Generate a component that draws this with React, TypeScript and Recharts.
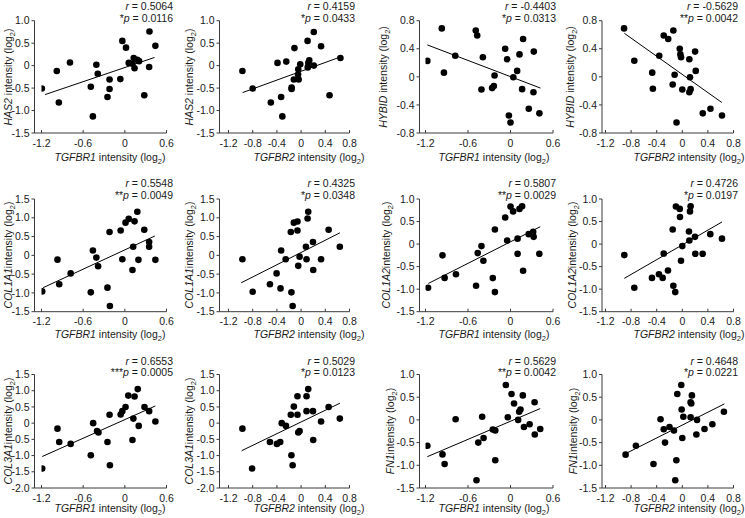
import React from 'react';
import { ScatterChart, Scatter, XAxis, YAxis, ReferenceLine } from 'recharts';

const FONT = '"Liberation Sans", Arial, sans-serif';
const INK = '#1a1a1a';
const AXIS = '#3a3a3a';
const FS = 10.5;

// ---- tick labels ----
const tgfbr1Ticks = [-1.2, -0.6, 0, 0.6];
const tgfbr2Ticks = [-1.2, -0.8, -0.4, 0, 0.4, 0.8];
const has2Ticks = [-1.5, -1, -0.5, 0, 0.5, 1];
const hybidTicks = [-0.8, -0.4, 0, 0.4, 0.8];
const col1a1Ticks = [-1.5, -1, -0.5, 0, 0.5, 1, 1.5];
const col1a2Ticks = [-1.5, -1, -0.5, 0, 0.5, 1];
const col3a1Ticks = [-2, -1.5, -1, -0.5, 0, 0.5, 1, 1.5];
const fn1Ticks = [-1.5, -1, -0.5, 0, 0.5, 1];

// ---- data: [x, y] ----
const has2VsTgfbr1 = [[-1.195,-0.51],[-0.98,-0.12],[-0.95,-0.82],[-0.79,0.07],[-0.49,-0.47],[-0.46,-1.13],[-0.41,0.02],[-0.39,-0.18],[-0.25,-0.70],[-0.22,-0.31],[-0.22,-0.52],[-0.065,-0.30],[-0.036,0.55],[0.017,0.40],[0.056,0.06],[0.11,0.04],[0.128,0.17],[0.14,-0.06],[0.18,0.13],[0.205,0.10],[0.28,-0.66],[0.35,-0.03],[0.355,0.76],[0.44,0.44]];
const has2VsTgfbr2 = [[-0.97,-0.12],[-0.80,-0.51],[-0.50,-0.82],[-0.39,0.06],[-0.33,-0.70],[-0.31,-1.13],[-0.245,0.09],[-0.157,-0.49],[-0.157,-0.52],[-0.12,-0.31],[-0.11,0.39],[-0.05,-0.20],[-0.047,-0.08],[-0.04,-0.31],[-0.014,0.03],[0.107,0.55],[0.11,-0.04],[0.12,0.06],[0.135,0.12],[0.21,0.75],[0.21,0.0],[0.33,0.43],[0.47,-0.66],[0.65,0.17]];
const hybidVsTgfbr1 = [[-1.174,0.227],[-0.97,0.69],[-0.94,0.06],[-0.78,0.30],[-0.49,0.66],[-0.47,0.59],[-0.41,-0.18],[-0.39,0.28],[-0.26,-0.16],[-0.235,-0.13],[-0.225,0.02],[-0.075,0.40],[-0.047,0.25],[0.094,0.085],[-0.023,-0.55],[0,-0.65],[0.04,-0.005],[0.127,0.32],[0.164,-0.175],[0.178,0.54],[0.258,-0.455],[0.324,-0.22],[0.329,0.36],[0.408,-0.52]];
const hybidVsTgfbr2 = [[-0.91,0.69],[-0.75,0.23],[-0.47,0.06],[-0.46,-0.17],[-0.36,0.30],[-0.29,0.59],[-0.22,0.54],[-0.15,-0.11],[-0.14,0.66],[-0.12,0.03],[-0.09,-0.65],[-0.04,0.40],[-0.03,0.32],[-0.02,0.28],[0,-0.18],[0.11,-0.22],[0.11,0.25],[0.12,-0.005],[0.13,-0.175],[0.20,0.36],[0.21,0.085],[0.32,-0.52],[0.44,-0.455],[0.62,-0.55]];
const col1a1VsTgfbr1 = [[-1.19,-0.96],[-0.97,-0.115],[-0.945,-0.77],[-0.78,-0.48],[-0.49,-0.985],[-0.46,0.13],[-0.41,-0.06],[-0.385,-0.29],[-0.25,-0.86],[-0.22,0.62],[-0.215,-1.35],[-0.06,0.66],[-0.036,-0.105],[0.01,0.87],[0.056,0.97],[0.11,-0.39],[0.12,0.23],[0.14,0.905],[0.18,1.16],[0.196,-0.12],[0.28,0.68],[0.35,0.355],[0.35,0.23],[0.44,-0.12]];
const col1a1VsTgfbr2 = [[-0.97,-0.105],[-0.80,-0.97],[-0.515,-0.77],[-0.405,-0.48],[-0.34,-0.88],[-0.33,0.13],[-0.255,-0.105],[-0.17,0.62],[-0.16,-0.985],[-0.14,-1.35],[-0.12,0.87],[-0.06,0.9],[-0.06,0.66],[-0.047,-0.28],[-0.025,-0.035],[0.09,-0.105],[0.08,0.23],[0.107,0.98],[0.118,1.16],[0.196,0.355],[0.2,-0.39],[0.33,-0.105],[0.455,0.68],[0.64,0.23]];
const col1a2VsTgfbr1 = [[-1.164,-0.97],[-0.96,-0.25],[-0.93,-0.75],[-0.77,-0.67],[-0.486,-0.925],[-0.463,-0.2],[-0.41,-0.045],[-0.383,-0.37],[-0.25,-0.755],[-0.22,0.325],[-0.22,-1.065],[-0.075,0.59],[-0.047,0.08],[0,0.835],[0.037,0.725],[0.1,-0.215],[0.1,0.12],[0.127,0.78],[0.164,0.84],[0.178,-0.59],[0.257,0.22],[0.32,0.27],[0.327,0.16],[0.407,-0.215]];
const col1a2VsTgfbr2 = [[-0.906,-0.245],[-0.75,-0.97],[-0.474,-0.75],[-0.365,-0.67],[-0.307,-0.75],[-0.29,-0.21],[-0.224,-0.585],[-0.15,0.325],[-0.14,-0.925],[-0.11,-1.065],[-0.1,0.835],[-0.04,0.78],[-0.036,0.6],[-0.02,-0.37],[0,-0.045],[0.104,0.28],[0.11,0.08],[0.12,0.725],[0.13,0.84],[0.198,0.16],[0.203,-0.215],[0.318,-0.215],[0.4375,0.22],[0.62,0.12]];
const col3a1VsTgfbr1 = [[-1.19,-1.40],[-0.97,-0.17],[-0.945,-0.58],[-0.78,-0.64],[-0.49,-0.99],[-0.456,0],[-0.40,-0.24],[-0.38,-0.29],[-0.25,-0.58],[-0.22,0.26],[-0.215,-1.30],[-0.06,0.265],[-0.036,0.37],[0.01,0.50],[0.05,0.85],[0.11,-0.52],[0.123,0.14],[0.14,0.82],[0.186,1.05],[0.2,-0.085],[0.283,0.50],[0.35,0.37],[0.44,0.05]];
const col3a1VsTgfbr2 = [[-0.97,-0.17],[-0.81,-1.40],[-0.515,-0.58],[-0.40,-0.64],[-0.345,-0.58],[-0.32,0],[-0.25,-0.085],[-0.17,0.26],[-0.16,-0.99],[-0.14,-1.30],[-0.12,0.51],[-0.06,0.83],[-0.06,0.26],[-0.047,-0.29],[-0.025,-0.24],[0.09,0.83],[0.09,0.37],[0.118,1.05],[0.196,0.37],[0.2,-0.52],[0.33,0.05],[0.455,0.50],[0.64,0.14]];
const fn1VsTgfbr1 = [[-1.174,-0.57],[-0.96,-0.76],[-0.93,-0.97],[-0.775,0.015],[-0.48,-1.33],[-0.455,-0.5],[-0.40,0.07],[-0.38,-0.4],[-0.25,-0.21],[-0.215,-0.235],[-0.215,-0.89],[-0.066,0.77],[-0.038,0.06],[0.014,0.57],[0.05,0.36],[0.108,0],[0.122,0.18],[0.141,0.23],[0.174,0.54],[0.19,-0.155],[0.27,-0.095],[0.34,0.39],[0.343,-0.32],[0.42,-0.2]];
const fn1VsTgfbr2 = [[-0.886,-0.765],[-0.725,-0.57],[-0.45,-0.97],[-0.34,0.015],[-0.29,-0.205],[-0.27,-0.5],[-0.2,-0.155],[-0.13,-0.235],[-0.11,-1.33],[-0.093,-0.89],[-0.078,0.57],[-0.016,0.77],[-0.01,0.23],[0,-0.4],[0.016,0.07],[0.13,0.39],[0.14,0.36],[0.13,0.06],[0.15,0.54],[0.23,0],[0.22,-0.32],[0.347,-0.2],[0.47,-0.095],[0.65,0.18]];

// ---- regression line endpoints [x1, y1, x2, y2] ----
const trendHas2R1 = [-1.147, -0.644, 0.428, 0.182];
const trendHas2R2 = [-0.967, -0.60, 0.658, 0.197];
const trendHybidR1 = [-1.174, 0.455, 0.423, -0.16];
const trendHybidR2 = [-0.905, 0.62, 0.617, -0.365];
const trendCol1a1R1 = [-1.176, -0.86, 0.432, 0.515];
const trendCol1a1R2 = [-0.989, -0.73, 0.642, 0.60];
const trendCol1a2R1 = [-1.159, -0.873, 0.42, 0.385];
const trendCol1a2R2 = [-0.906, -0.76, 0.62, 0.49];
const trendCol3a1R1 = [-1.19, -1.03, 0.44, 0.53];
const trendCol3a1R2 = [-0.983, -0.85, 0.642, 0.615];
const trendFn1R1 = [-1.174, -0.81, 0.42, 0.25];
const trendFn1R2 = [-0.896, -0.75, 0.658, 0.353];

// ---- statistics ----
const rValues = ['0.5064', '0.4159', '-0.4403', '-0.5629', '0.5548', '0.4325', '0.5807', '0.4726', '0.6553', '0.5029', '0.5629', '0.4648'];
const pStars = ['*', '*', '*', '**', '**', '*', '**', '*', '***', '*', '**', '*'];
const pValues = ['0.0116', '0.0433', '0.0313', '0.0042', '0.0049', '0.0348', '0.0029', '0.0197', '0.0005', '0.0123', '0.0042', '0.0221'];

const fmt = (v: number) => (v === 0 ? '0' : v.toFixed(1));

const XTick = (props: any) => {
  const { x, y, payload } = props;
  return (
    <g>
      <line x1={x} x2={x} y1={y} y2={y - 3} stroke={AXIS} strokeWidth={1} />
      <text x={x} y={y + 13.5} textAnchor="middle" fontSize={FS} fontFamily={FONT} fill={INK}>
        {fmt(payload.value)}
      </text>
    </g>
  );
};

const YTick = (props: any) => {
  const { x, y, payload } = props;
  return (
    <g>
      <line x1={x} x2={x - 3} y1={y} y2={y} stroke={AXIS} strokeWidth={1} />
      <text x={x - 5} y={y + 3.7} textAnchor="end" fontSize={FS} fontFamily={FONT} fill={INK}>
        {fmt(payload.value)}
      </text>
    </g>
  );
};

const PanelText = (props: any) => {
  const { gene, sep, receptor, yt, xt, st, idx } = props;
  return (
    <g fontFamily={FONT} fontSize={FS} fill={INK}>
      <text x={xt[0]} y={xt[1]} textAnchor="middle">
        <tspan fontStyle="italic">{receptor}</tspan>
        <tspan> intensity (log</tspan>
        <tspan fontSize={7.5} dy={3}>2</tspan>
        <tspan dy={-3}>)</tspan>
      </text>
      <text x={yt[0]} y={yt[1] + 4} textAnchor="middle" transform={`rotate(-90 ${yt[0]} ${yt[1]})`}>
        <tspan fontStyle="italic">{gene}</tspan>
        <tspan>{sep}intensity (log</tspan>
        <tspan fontSize={7.5} dy={3}>2</tspan>
        <tspan dy={-3}>)</tspan>
      </text>
      <text x={st[0]} y={st[1]} textAnchor="end">
        <tspan fontStyle="italic">r</tspan>
        <tspan>{` = ${rValues[idx]}`}</tspan>
      </text>
      <text x={st[0]} y={st[2]} textAnchor="end">
        <tspan>{pStars[idx]}</tspan>
        <tspan fontStyle="italic">p</tspan>
        <tspan>{` = ${pValues[idx]}`}</tspan>
      </text>
    </g>
  );
};

const Dot = (props: any) => <circle cx={props.cx} cy={props.cy} r={3.3} fill="#000" />;

const Panel = (props: any) => {
  const { data, trend, xTicks, yTicks, box, gene, sep, receptor, yt, xt, st, idx } = props;
  const pts = data.map((d: number[]) => ({ x: d[0], y: d[1] }));
  const YW = 30;
  const XH = 20;
  return (
    <div style={{ position: 'absolute', left: 0, top: 0 }}>
      <ScatterChart
        width={745}
        height={518}
        margin={{ top: box.t, left: box.l - YW, right: 745 - box.r, bottom: 518 - box.b - XH }}
      >
        <XAxis
          type="number"
          dataKey="x"
          domain={[xTicks[0], xTicks[xTicks.length - 1]]}
          ticks={xTicks}
          interval={0}
          allowDataOverflow
          padding={{ left: box.pad, right: 0 }}
          height={XH}
          tickLine={false}
          tickSize={0}
          tickMargin={0}
          axisLine={{ stroke: AXIS, strokeWidth: 1 }}
          tick={(p: any) => <XTick {...p} />}
          label={<PanelText gene={gene} sep={sep} receptor={receptor} yt={yt} xt={xt} st={st} idx={idx} />}
        />
        <YAxis
          type="number"
          dataKey="y"
          domain={[yTicks[0], yTicks[yTicks.length - 1]]}
          ticks={yTicks}
          interval={0}
          allowDataOverflow
          width={YW}
          tickLine={false}
          tickSize={0}
          tickMargin={0}
          axisLine={{ stroke: AXIS, strokeWidth: 1 }}
          tick={(p: any) => <YTick {...p} />}
        />
        <ReferenceLine
          segment={[{ x: trend[0], y: trend[1] }, { x: trend[2], y: trend[3] }]}
          stroke="#000"
          strokeWidth={1}
          ifOverflow="visible"
        />
        <Scatter data={pts} isAnimationActive={false} shape={(p: any) => <Dot {...p} />} />
      </ScatterChart>
    </div>
  );
};

const C = [
  { l: 34.5, r: 166.5, pad: 7, xt: 110, st: 173 },
  { l: 219.5, r: 349.5, pad: 9, xt: 309, st: 355 },
  { l: 419.5, r: 553, pad: 6, xt: 494, st: 556 },
  { l: 602, r: 733.5, pad: 3.5, xt: 689, st: 738 },
];
const R = [
  { t: 20.7, b: 133, xtY: 160.5, rY: 10, pY: 22, ytY: 77 },
  { t: 199, b: 311.7, xtY: 338, rY: 187, pY: 198.5, ytY: 255 },
  { t: 374.5, b: 488, xtY: 512, rY: 364.5, pY: 376, ytY: 431 },
];
const YTX = [
  [7.5, 189, 382.5, 570],
  [7.5, 189, 386, 572],
  [7.5, 189, 390, 573],
];

const panels = [
  { data: has2VsTgfbr1, trend: trendHas2R1, gene: 'HAS2', sep: ' ', yTicks: has2Ticks },
  { data: has2VsTgfbr2, trend: trendHas2R2, gene: 'HAS2', sep: ' ', yTicks: has2Ticks },
  { data: hybidVsTgfbr1, trend: trendHybidR1, gene: 'HYBID', sep: ' ', yTicks: hybidTicks },
  { data: hybidVsTgfbr2, trend: trendHybidR2, gene: 'HYBID', sep: ' ', yTicks: hybidTicks },
  { data: col1a1VsTgfbr1, trend: trendCol1a1R1, gene: 'COL1A1', sep: '', yTicks: col1a1Ticks },
  { data: col1a1VsTgfbr2, trend: trendCol1a1R2, gene: 'COL1A1', sep: '', yTicks: col1a1Ticks },
  { data: col1a2VsTgfbr1, trend: trendCol1a2R1, gene: 'COL1A2', sep: '', yTicks: col1a2Ticks },
  { data: col1a2VsTgfbr2, trend: trendCol1a2R2, gene: 'COL1A2', sep: '', yTicks: col1a2Ticks },
  { data: col3a1VsTgfbr1, trend: trendCol3a1R1, gene: 'COL3A1', sep: '', yTicks: col3a1Ticks },
  { data: col3a1VsTgfbr2, trend: trendCol3a1R2, gene: 'COL3A1', sep: '', yTicks: col3a1Ticks },
  { data: fn1VsTgfbr1, trend: trendFn1R1, gene: 'FN1', sep: '', yTicks: fn1Ticks },
  { data: fn1VsTgfbr2, trend: trendFn1R2, gene: 'FN1', sep: '', yTicks: fn1Ticks },
];

export default function App() {
  return (
    <div style={{ position: 'absolute', left: 0, top: 0, width: 745, height: 518, background: '#fff', overflow: 'hidden' }}>
      {panels.map((p, i) => {
        const row = Math.floor(i / 4);
        const col = i % 4;
        const c = C[col];
        const r = R[row];
        const isR1 = col % 2 === 0;
        return (
          <Panel
            key={i}
            idx={i}
            data={p.data}
            trend={p.trend}
            gene={p.gene}
            sep={p.sep}
            receptor={isR1 ? 'TGFBR1' : 'TGFBR2'}
            xTicks={isR1 ? tgfbr1Ticks : tgfbr2Ticks}
            yTicks={p.yTicks}
            box={{ l: c.l, r: c.r, t: r.t, b: r.b, pad: c.pad }}
            yt={[YTX[row][col], r.ytY]}
            xt={[c.xt, r.xtY]}
            st={[c.st, r.rY, r.pY]}
          />
        );
      })}
    </div>
  );
}
